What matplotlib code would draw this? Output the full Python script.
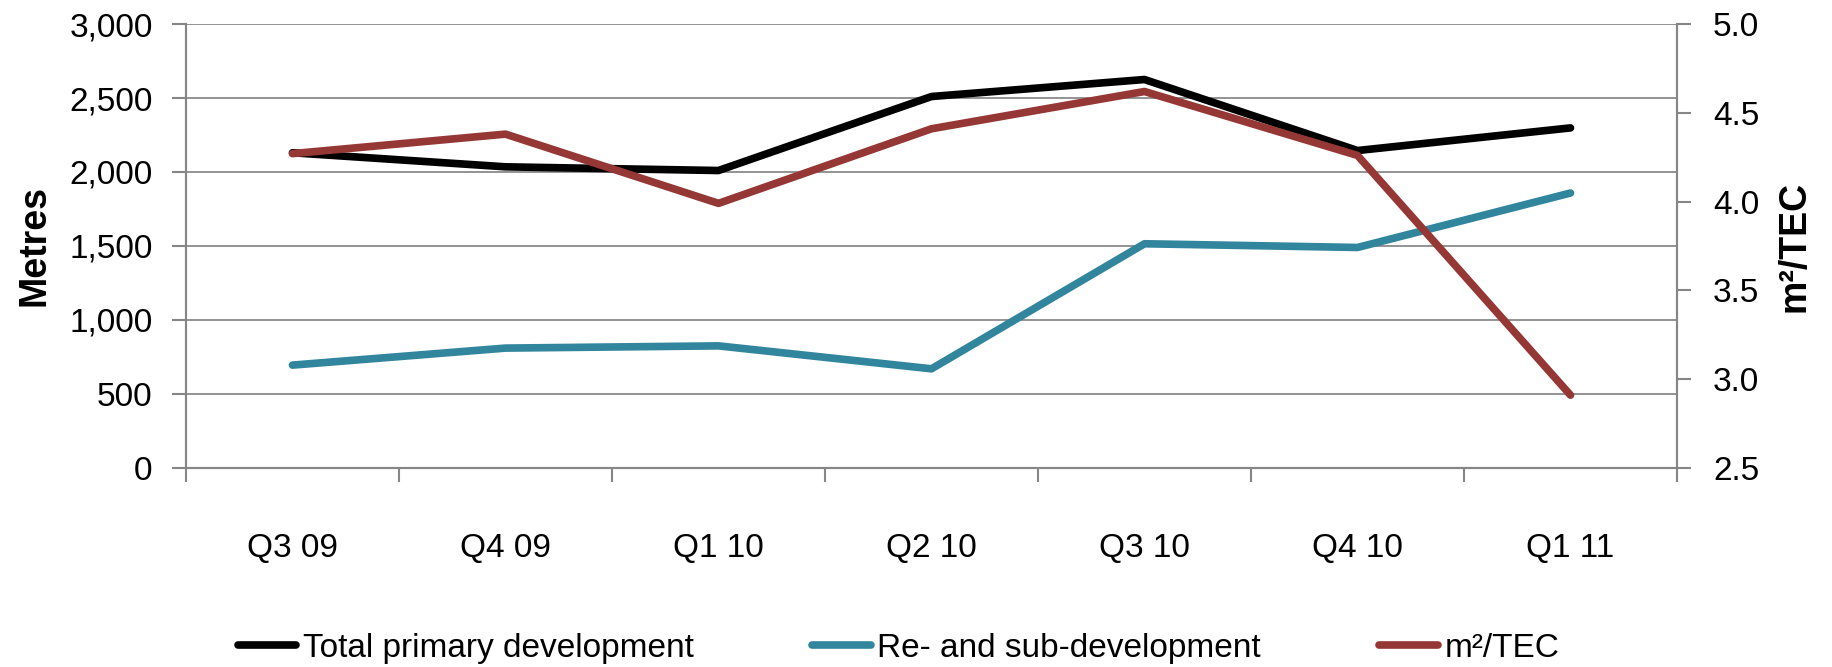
import matplotlib
matplotlib.use('Agg')
import matplotlib.pyplot as plt
from matplotlib.ticker import FuncFormatter, FixedLocator

plt.rcParams['font.family'] = ['Liberation Sans', 'DejaVu Sans']

quarters = ['Q3 09', 'Q4 09', 'Q1 10', 'Q2 10', 'Q3 10', 'Q4 10', 'Q1 11']
total_primary = [2130, 2035, 2010, 2510, 2625, 2145, 2298]
re_sub = [695, 810, 825, 670, 1515, 1490, 1858]
m2_tec = [4.27, 4.38, 3.99, 4.41, 4.62, 4.26, 2.91]

grey = '#868686'

fig = plt.figure(figsize=(18.32, 6.67), dpi=100)
ax = fig.add_axes([0.1015, 0.2984, 0.8139, 0.6656])
ax2 = ax.twinx()

x = list(range(len(quarters)))
l1, = ax.plot(x, total_primary, color='black', lw=5.5, solid_capstyle='round',
              solid_joinstyle='round', label='Total primary development')
l2, = ax.plot(x, re_sub, color='#31859C', lw=5.5, solid_capstyle='round',
              solid_joinstyle='round', label='Re- and sub-development')
l3, = ax2.plot(x, m2_tec, color='#953735', lw=5.5, solid_capstyle='round',
               solid_joinstyle='round', label='m²/TEC')

ax.set_xlim(-0.5, len(quarters) - 0.5)
ax.set_ylim(0, 3000)
ax.set_yticks(range(0, 3001, 500))
ax.yaxis.set_major_formatter(FuncFormatter(lambda v, p: f'{int(v):,}'))
ax.grid(axis='y', color='#8a8a8a', lw=1.3)
ax.set_axisbelow(True)

ax2.set_ylim(2.5, 5.0)
ax2.set_yticks([2.5, 3.0, 3.5, 4.0, 4.5, 5.0])
ax2.yaxis.set_major_formatter(FuncFormatter(lambda v, p: f'{v:.1f}'))

# category boundaries as major ticks, labels on minor ticks
ax.xaxis.set_major_locator(FixedLocator([i - 0.5 for i in range(len(quarters) + 1)]))
ax.xaxis.set_major_formatter(FuncFormatter(lambda v, p: ''))
ax.xaxis.set_minor_locator(FixedLocator(x))
ax.set_xticklabels(quarters, minor=True)
ax.tick_params(axis='x', which='major', length=10, width=1.5, color=grey, direction='out')
ax.tick_params(axis='x', which='minor', length=0, pad=47, labelsize=24)
ax.tick_params(axis='y', length=10, width=1.5, color=grey, pad=14, labelsize=24)
ax2.tick_params(axis='y', length=10, width=1.5, color=grey, pad=16, labelsize=24)

for a in (ax, ax2):
    a.spines['top'].set_visible(False)
    for s in ('left', 'right', 'bottom'):
        a.spines[s].set_color(grey)
        a.spines[s].set_linewidth(1.5)

ax.set_ylabel('Metres', fontsize=27, fontweight='bold')
ax.yaxis.set_label_coords(-0.0895, 0.5)
ax2.set_ylabel('m²/TEC', fontsize=27, fontweight='bold')
ax2.yaxis.set_label_coords(1.0664, 0.5)

fig.legend([l1, l2, l3], [l1.get_label(), l2.get_label(), l3.get_label()],
           loc='center', bbox_to_anchor=(0.4905, 0.028), ncol=3, frameon=False,
           fontsize=24, handlelength=1.75, handletextpad=0.2, columnspacing=3.55)

fig.savefig('out.png', dpi=100)
